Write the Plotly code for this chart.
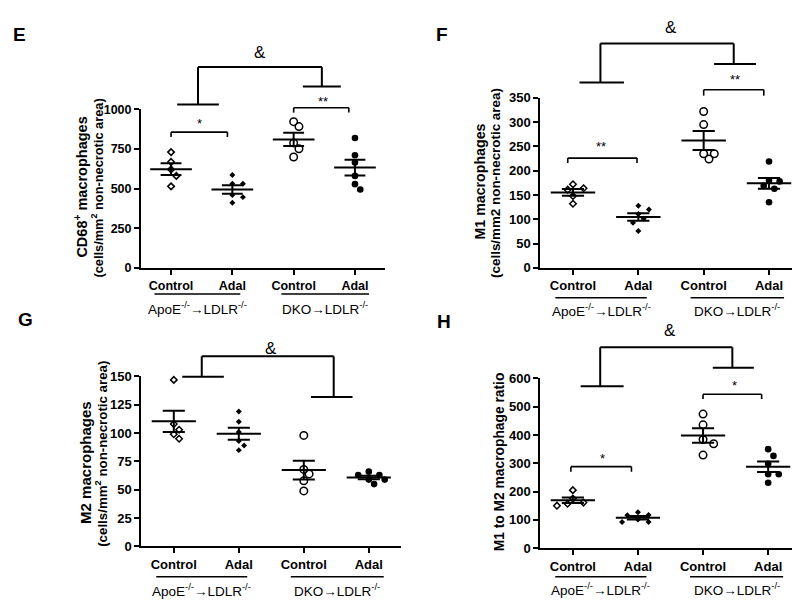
import numpy as np
import plotly.graph_objects as go

W, H = 800, 603

categories = ["Control", "Adal", "Control", "Adal"]
group_names = ["ApoE<sup>-/-</sup>→LDLR<sup>-/-</sup>", "DKO→LDLR<sup>-/-</sup>"]

# Panel E: CD68+ macrophages
e_apoe_control = [730, 668, 621, 580, 514]
e_apoe_adal = [586, 531, 531, 459, 446, 411]
e_dko_control = [922, 891, 788, 751, 699]
e_dko_adal = [819, 710, 664, 580, 528, 494]

# Panel F: M1 macrophages
f_apoe_control = [172, 164, 161, 148, 132]
f_apoe_adal = [128, 120, 111, 101, 93, 76]
f_dko_control = [322, 295, 235, 235, 224]
f_dko_adal = [219, 180, 178, 169, 163, 135]

# Panel G: M2 macrophages
g_apoe_control = [147, 108, 103, 99, 95]
g_apoe_adal = [119, 110, 101, 93, 89, 85]
g_dko_control = [98, 68, 64, 58, 49]
g_dko_adal = [66, 63, 63, 59, 59, 55]

# Panel H: M1 to M2 ratio
h_apoe_control = [205, 175, 161, 157, 150]
h_apoe_adal = [127, 117, 116, 101, 92, 92]
h_dko_control = [474, 436, 384, 369, 329]
h_dko_adal = [350, 326, 298, 261, 261, 231]

FONT = "Liberation Sans, Arial, sans-serif"

symbols = ["diamond-open", "diamond", "circle-open", "circle"]
sizes = [5.0, 4.6, 7.5, 6.6]

panels = [
    dict(letter="E", box=(133, 377, 96.7, 259.3), xr=(-0.49, 3.49), yr=(0, 1000), dtick=250, fs=12.5,
         data=[e_apoe_control, e_apoe_adal, e_dko_control, e_dko_adal],
         ytitle=[("CD68<sup>+</sup> macrophages", 73, 177, 14.5),
                 ("(cells/mm<sup>2</sup> non-necrotic area)", 89, 178, 12.8)],
         lpos=(11, 19.5),
         amp=dict(top=1266, left=(0.44, 1030, 0.10, 0.78), right=(2.46, 1143, 2.15, 2.77), label=(1.45, 1360)),
         sigs=[(0, 0.92, 856, 825, "*", 0.47, 930), (2, 2.9, 1010, 979, "**", 2.48, 1071)],
         gline=286, glabel=300),
    dict(letter="F", box=(532.3, 795, 85, 259.3), xr=(-0.5, 3.52), yr=(0, 350), dtick=50, fs=13,
         data=[f_apoe_control, f_apoe_adal, f_dko_control, f_dko_adal],
         ytitle=[("M1 macrophages", 471.7, 171, 14.2),
                 ("(cells/mm2 non-necrotic area)", 487.7, 172.5, 13.4)],
         lpos=(434, 20),
         amp=dict(top=462, left=(0.42, 381.5, 0.10, 0.78), right=(2.46, 420, 2.16, 2.8), label=(1.5, 495)),
         sigs=[(2.0, 2.92, 366.7, 354.6, "**", 2.48, 394), (-0.08, 0.98, 226, 216, "**", 0.43, 256)],
         gline=290, glabel=303),
    dict(letter="G", box=(133.3, 393.3, 370.7, 545), xr=(-0.5, 3.5), yr=(0, 150), dtick=25, fs=13,
         data=[g_apoe_control, g_apoe_adal, g_dko_control, g_dko_adal],
         ytitle=[("M2 macrophages", 77.3, 459, 15),
                 ("(cells/mm<sup>2</sup> non-necrotic area)", 94, 450, 13.3)],
         lpos=(17, 312),
         amp=dict(top=167.8, left=(0.43, 149.7, 0.13, 0.77), right=(2.46, 131.9, 2.11, 2.75), label=(1.5, 175)),
         sigs=[],
         gline=576, glabel=590),
    dict(letter="H", box=(532.3, 792.7, 372.7, 546.7), xr=(-0.5, 3.5), yr=(0, 600), dtick=100, fs=13,
         data=[h_apoe_control, h_apoe_adal, h_dko_control, h_dko_adal],
         ytitle=[("M1 to M2 macrophage ratio", 491.7, 458, 13.8)],
         lpos=(436, 314),
         amp=dict(top=710, left=(0.42, 572, 0.12, 0.78), right=(2.45, 638, 2.15, 2.78), label=(1.49, 768)),
         sigs=[(2.0, 2.9, 544, 527, "*", 2.49, 584), (-0.03, 0.9, 288, 270, "*", 0.45, 327.6)],
         gline=576, glabel=589),
]


def swarm(vals, ppu_y, px_per_cat, step=5.3, dmin=7.0):
    placed = []
    offs = [0.0] * len(vals)
    order = sorted(range(len(vals)), key=lambda i: -vals[i])
    for i in order:
        y = vals[i] * ppu_y
        chosen = 0.0
        for k in [0, 1, -1, 2, -2, 3, -3, 4, -4]:
            x = k * step
            if all((x - px) ** 2 + (y - py) ** 2 >= dmin ** 2 for px, py in placed):
                chosen = x
                break
        placed.append((chosen, y))
        offs[i] = chosen / px_per_cat
    return offs


fig = go.Figure()
shapes = []
annotations = []
layout = {}

for idx, p in enumerate(panels):
    n = "" if idx == 0 else str(idx + 1)
    xa, ya = "x" + n, "y" + n
    x0, x1, yt, yb = p["box"]
    xr, yr = p["xr"], p["yr"]
    ppc = (x1 - x0) / (xr[1] - xr[0])
    ppu = (yb - yt) / (yr[1] - yr[0])

    def PX(c, x0=x0, xr=xr, ppc=ppc):
        return (x0 + (c - xr[0]) * ppc) / W

    def PY(v, yb=yb, yr=yr, ppu=ppu):
        return 1 - (yb - (v - yr[0]) * ppu) / H

    def PYpx(pix):
        return 1 - pix / H

    tick_font = dict(family=FONT, size=p["fs"], color="black")
    layout["xaxis" + n] = dict(
        domain=[x0 / W, x1 / W], range=list(xr), anchor=ya,
        tickvals=[0, 1, 2, 3], ticktext=["<b>%s</b>" % c for c in categories],
        showline=True, linewidth=2, linecolor="black", ticks="outside", ticklen=5, tickwidth=2,
        tickcolor="black", showgrid=False, zeroline=False, tickfont=tick_font,
    )
    yt_vals = [int(v) for v in np.arange(yr[0], yr[1] + 0.1, p["dtick"])]
    layout["yaxis" + n] = dict(
        domain=[1 - yb / H, 1 - yt / H], range=list(yr), anchor=xa,
        tickvals=yt_vals, ticktext=["<b>%d</b>" % v for v in yt_vals],
        showline=True, linewidth=2, linecolor="black", ticks="outside", ticklen=5, tickwidth=2,
        tickcolor="black", showgrid=False, zeroline=False, tickfont=tick_font,
    )

    # points
    for g, vals in enumerate(p["data"]):
        offs = swarm(vals, ppu, ppc)
        filled = g in (1, 3)
        fig.add_trace(go.Scatter(
            x=[g + o for o in offs], y=vals, mode="markers", xaxis=xa, yaxis=ya,
            marker=dict(symbol=symbols[g], size=sizes[g], color="black",
                        line=dict(color="black", width=0 if filled else 1.5)),
            hoverinfo="skip", showlegend=False, cliponaxis=False,
        ))
    # mean +/- SEM
    lx, ly = [], []
    for g, vals in enumerate(p["data"]):
        v = np.array(vals, dtype=float)
        m = v.mean()
        s = v.std(ddof=1) / np.sqrt(len(v))
        lx += [g - 0.34, g + 0.34, None, g, g, None, g - 0.17, g + 0.17, None, g - 0.17, g + 0.17, None]
        ly += [m, m, None, m - s, m + s, None, m + s, m + s, None, m - s, m - s, None]
    fig.add_trace(go.Scatter(x=lx, y=ly, mode="lines", xaxis=xa, yaxis=ya,
                             line=dict(color="black", width=2), hoverinfo="skip",
                             showlegend=False, cliponaxis=False))

    def line(xa_, ya_, xb_, yb_, w=2):
        shapes.append(dict(type="line", xref="paper", yref="paper", x0=xa_, y0=ya_, x1=xb_, y1=yb_,
                           line=dict(color="black", width=w)))

    # "&" bracket
    a = p["amp"]
    lc, lb, ls0, ls1 = a["left"]
    rc, rb, rs0, rs1 = a["right"]
    line(PX(lc), PY(a["top"]), PX(rc), PY(a["top"]))
    line(PX(lc), PY(a["top"]), PX(lc), PY(lb))
    line(PX(rc), PY(a["top"]), PX(rc), PY(rb))
    line(PX(ls0), PY(lb), PX(ls1), PY(lb))
    line(PX(rs0), PY(rb), PX(rs1), PY(rb))
    annotations.append(dict(text="&", x=PX(a["label"][0]), y=PY(a["label"][1]), xref="paper", yref="paper",
                            showarrow=False, xanchor="center", yanchor="middle",
                            font=dict(family=FONT, size=17, color="black")))
    # significance brackets
    for (c0, c1, top, bot, txt, tx, ty) in p["sigs"]:
        line(PX(c0), PY(top), PX(c1), PY(top), 1.6)
        line(PX(c0), PY(top), PX(c0), PY(bot), 1.6)
        line(PX(c1), PY(top), PX(c1), PY(bot), 1.6)
        annotations.append(dict(text=txt, x=PX(tx), y=PY(ty), xref="paper", yref="paper",
                                showarrow=False, xanchor="center", yanchor="middle", yshift=-3,
                                font=dict(family=FONT, size=13, color="black")))

    # group lines and labels
    for gi, (g0, g1) in enumerate([(-0.27, 1.13), (1.8, 3.23)]):
        line(PX(g0), PYpx(p["gline"]), PX(g1), PYpx(p["gline"]), 1.5)
        annotations.append(dict(text=group_names[gi], x=PX((g0 + g1) / 2), y=PYpx(p["glabel"]),
                                xref="paper", yref="paper", showarrow=False,
                                xanchor="center", yanchor="middle",
                                font=dict(family=FONT, size=13.5, color="black")))

    # y title lines
    for (txt, tx, ty, tfs) in p["ytitle"]:
        annotations.append(dict(text="<b>%s</b>" % txt, x=tx / W, y=PYpx(ty),
                                xref="paper", yref="paper", showarrow=False, textangle=-90,
                                xanchor="center", yanchor="middle",
                                font=dict(family=FONT, size=tfs, color="black")))
    # panel letter
    annotations.append(dict(text="<b>%s</b>" % p["letter"], x=p["lpos"][0] / W, y=PYpx(p["lpos"][1]),
                            xref="paper", yref="paper", showarrow=False,
                            xanchor="center", yanchor="middle",
                            font=dict(family=FONT, size=19, color="black")))

fig.update_layout(
    width=W, height=H, margin=dict(l=0, r=0, t=0, b=0),
    paper_bgcolor="white", plot_bgcolor="white", showlegend=False,
    shapes=shapes, annotations=annotations, **layout,
)

fig.write_html("out.html")
